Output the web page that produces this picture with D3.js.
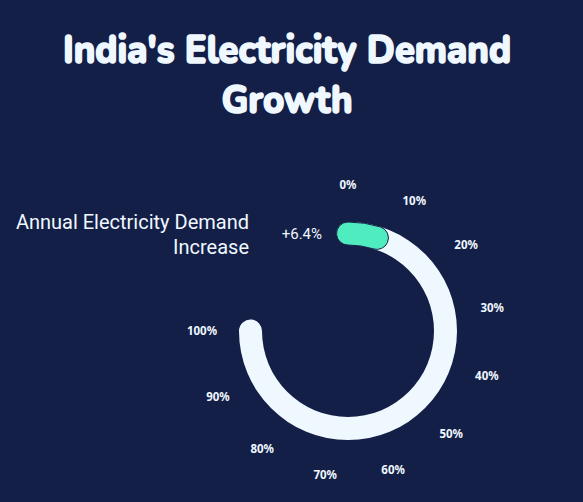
<!DOCTYPE html>
<html>
<head>
<meta charset="utf-8">
<script src="https://cdn.jsdelivr.net/npm/d3@7"></script>
<style>
  html, body { margin: 0; padding: 0; background: #131f47; }
  svg { display: block; }
</style>
</head>
<body>
<div id="chart"></div>
<script>
const W = 583, H = 502;
const BG = "#131f47", TRACK = "#f0f8ff", BAR = "#4eecbf", TEXT = "#f0f8ff";

// data
const categories = ["Annual Electricity Demand Increase"];
const values = [6.4];
const valueLabels = ["+6.4%"];
const maxValue = 100;
const tickValues = [0, 10, 20, 30, 40, 50, 60, 70, 80, 90, 100];
const titleLines = ["India's Electricity Demand", "Growth"];

const CX = 348, CY = 331;
const TITLE_SY = 1.1;

const svg = d3.select("#chart").append("svg")
  .attr("width", W)
  .attr("height", H)

svg.append("rect").attr("width", W).attr("height", H).attr("fill", BG)

// title (rounded face, stretched a little taller like the reference)
const title = svg.append("text")
  .attr("class", "title")
  .attr("text-anchor", "middle")
  .attr("font-family", "Nunito, 'Noto Sans', sans-serif")
  .attr("font-weight", 800)
  .attr("font-size", 40)
  .attr("fill", TEXT)
  .attr("stroke", TEXT)
  .attr("stroke-width", 1.5)
  .attr("stroke-linejoin", "round")
  .attr("transform", `scale(1, ${TITLE_SY})`)

titleLines.forEach(function(t, i) {
  title.append("tspan")
    .attr("x", 287)
    .attr("y", (63 + i * 50) / TITLE_SY)
    .text(t)
})
// fit first line to reference width
const w0 = title.select("tspan").node().getComputedTextLength()
title.attr("font-size", 40 * 448 / w0)

// scales
const angle = d3.scaleLinear()
  .domain([0, maxValue])
  .range([0, 1.5 * Math.PI])

const radius = d3.scaleBand()
  .domain(categories)
  .range([86, 109])

const g = svg.append("g")
  .attr("transform", `translate(${CX}, ${CY})`)

// round-capped arc, caps reach past the value like echarts roundCap
function capArc(cat, a0, a1) {
  const r0 = radius(cat), r1 = r0 + radius.bandwidth()
  const half = radius.bandwidth() / 2
  const ext = half / ((r0 + r1) / 2)
  return d3.arc()
    .innerRadius(r0)
    .outerRadius(r1)
    .cornerRadius(half)
    .startAngle(a0 - ext)
    .endAngle(a1 + ext)()
}

// background track
g.selectAll(".track")
  .data(categories)
  .enter().append("path")
  .attr("class", "track")
  .attr("d", function(d) { return capArc(d, angle(0), angle(maxValue)) })
  .attr("fill", TRACK)

// bars
g.selectAll(".bar")
  .data(values)
  .enter().append("path")
  .attr("class", "bar")
  .attr("d", function(d, i) { return capArc(categories[i], angle(0), angle(d)) })
  .attr("fill", BAR)
  .attr("stroke", BG)
  .attr("stroke-width", 1)

// angle axis labels
const labelR = 146
g.selectAll(".tick")
  .data(tickValues)
  .enter().append("text")
  .attr("class", "tick")
  .attr("x", function(d) { return labelR * Math.sin(angle(d)) })
  .attr("y", function(d) { return -labelR * Math.cos(angle(d)) })
  .attr("dy", "0.35em")
  .attr("text-anchor", "middle")
  .attr("font-family", "'Noto Sans', sans-serif")
  .attr("font-weight", "bold")
  .attr("font-size", 11.5)
  .attr("fill", TEXT)
  .text(function(d) { return d + "%" })

// value labels
g.selectAll(".val")
  .data(values)
  .enter().append("text")
  .attr("class", "val")
  .attr("x", -26)
  .attr("y", function(d, i) { return -(radius(categories[i]) + radius.bandwidth() / 2) })
  .attr("dy", "0.35em")
  .attr("text-anchor", "end")
  .attr("font-family", "Roboto, sans-serif")
  .attr("font-size", 15)
  .attr("fill", TEXT)
  .text(function(d, i) { return valueLabels[i] })

// category labels, wrapped
const cat = g.selectAll(".cat")
  .data(categories)
  .enter().append("text")
  .attr("class", "cat")
  .attr("text-anchor", "end")
  .attr("font-family", "Roboto, sans-serif")
  .attr("font-size", 20)
  .attr("fill", TEXT)

cat.each(function(d) {
  const el = d3.select(this)
  const yMid = -(radius(d) + radius.bandwidth() / 2)
  const words = d.split(" ")
  const lines = [words.slice(0, 3).join(" "), words.slice(3).join(" ")]
  lines.forEach(function(l, i) {
    el.append("tspan")
      .attr("x", -99)
      .attr("y", yMid - 4.5 + i * 24.5)
      .text(l)
  })
})
</script>
</body>
</html>
